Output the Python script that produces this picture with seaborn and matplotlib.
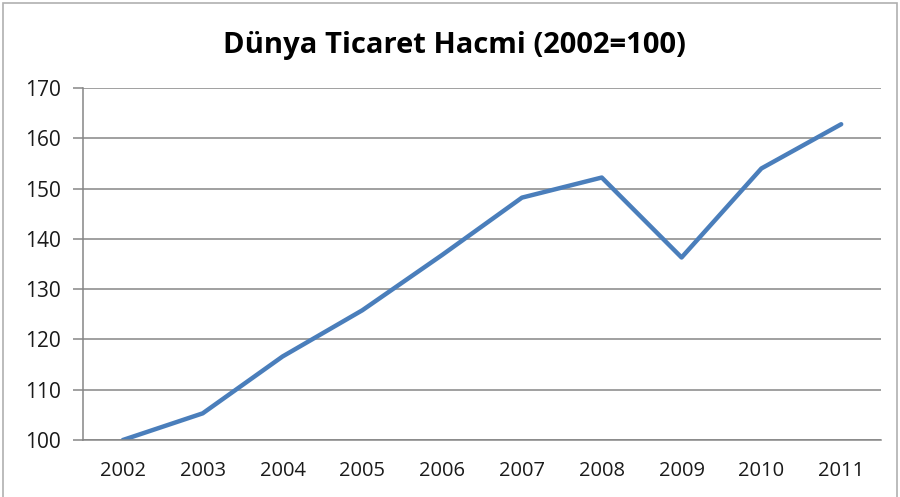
import numpy as np
import pandas as pd
import matplotlib
matplotlib.use("Agg")
import matplotlib.pyplot as plt
import seaborn as sns
from matplotlib.patches import Rectangle

# ----------------------------
# Data
# ----------------------------
years = ["2002", "2003", "2004", "2005", "2006", "2007", "2008", "2009", "2010", "2011"]
volume = [100.0, 105.3, 116.6, 125.8, 136.8, 148.2, 152.2, 136.3, 154.0, 162.8]
y_ticks = [100, 110, 120, 130, 140, 150, 160, 170]

title = "Dünya Ticaret Hacmi (2002=100)"

GRID = "#868686"
LINE = "#4a7ebb"
TEXT = "#1a1a1a"

df = pd.DataFrame({"year": years, "volume": volume})

# ----------------------------
# Figure
# ----------------------------
sns.set_style("white")
plt.rcParams["font.family"] = ["Open Sans", "DejaVu Sans"]

fig = plt.figure(figsize=(9, 4.97), dpi=100)
ax = fig.add_axes([0.0922, 0.1147, 0.8868, 0.7082])

sns.lineplot(data=df, x="year", y="volume", ax=ax, color=LINE, linewidth=3.2,
             sort=False)

ax.set_xlim(-0.5, len(years) - 0.5)
ax.set_ylim(min(y_ticks), max(y_ticks))
ax.set_yticks(y_ticks)
ax.yaxis.grid(True, color=GRID, linewidth=1.1)
ax.set_axisbelow(True)

# category labels centred, tick marks between categories
ax.set_xticks(range(len(years)))
ax.set_xticklabels(years)
ax.set_xticks(np.arange(-0.5, len(years)), minor=True)
ax.tick_params(axis="x", which="major", length=0, pad=15, labelsize=14.5, labelcolor=TEXT)
ax.tick_params(axis="x", which="minor", length=7, width=1.1, color=GRID, direction="out")
ax.tick_params(axis="y", length=7, width=1.1, color=GRID, direction="out", pad=9,
               labelsize=15, labelcolor=TEXT, left=True)

for side in ["top", "right"]:
    ax.spines[side].set_visible(False)
for side in ["left", "bottom"]:
    ax.spines[side].set_color(GRID)
    ax.spines[side].set_linewidth(1.1)

ax.set_xlabel("")
ax.set_ylabel("")

fig.text(0.505, 0.909, title, ha="center", va="center", fontsize=21,
         fontweight="bold", color="#000000")

# outer chart frame
fig.patches.append(Rectangle((0.003, -0.01), 0.994, 1.004, transform=fig.transFigure,
                             fill=False, edgecolor="#b0b0b0", linewidth=1.2))

fig.savefig("out.png", dpi=100)
plt.close(fig)
